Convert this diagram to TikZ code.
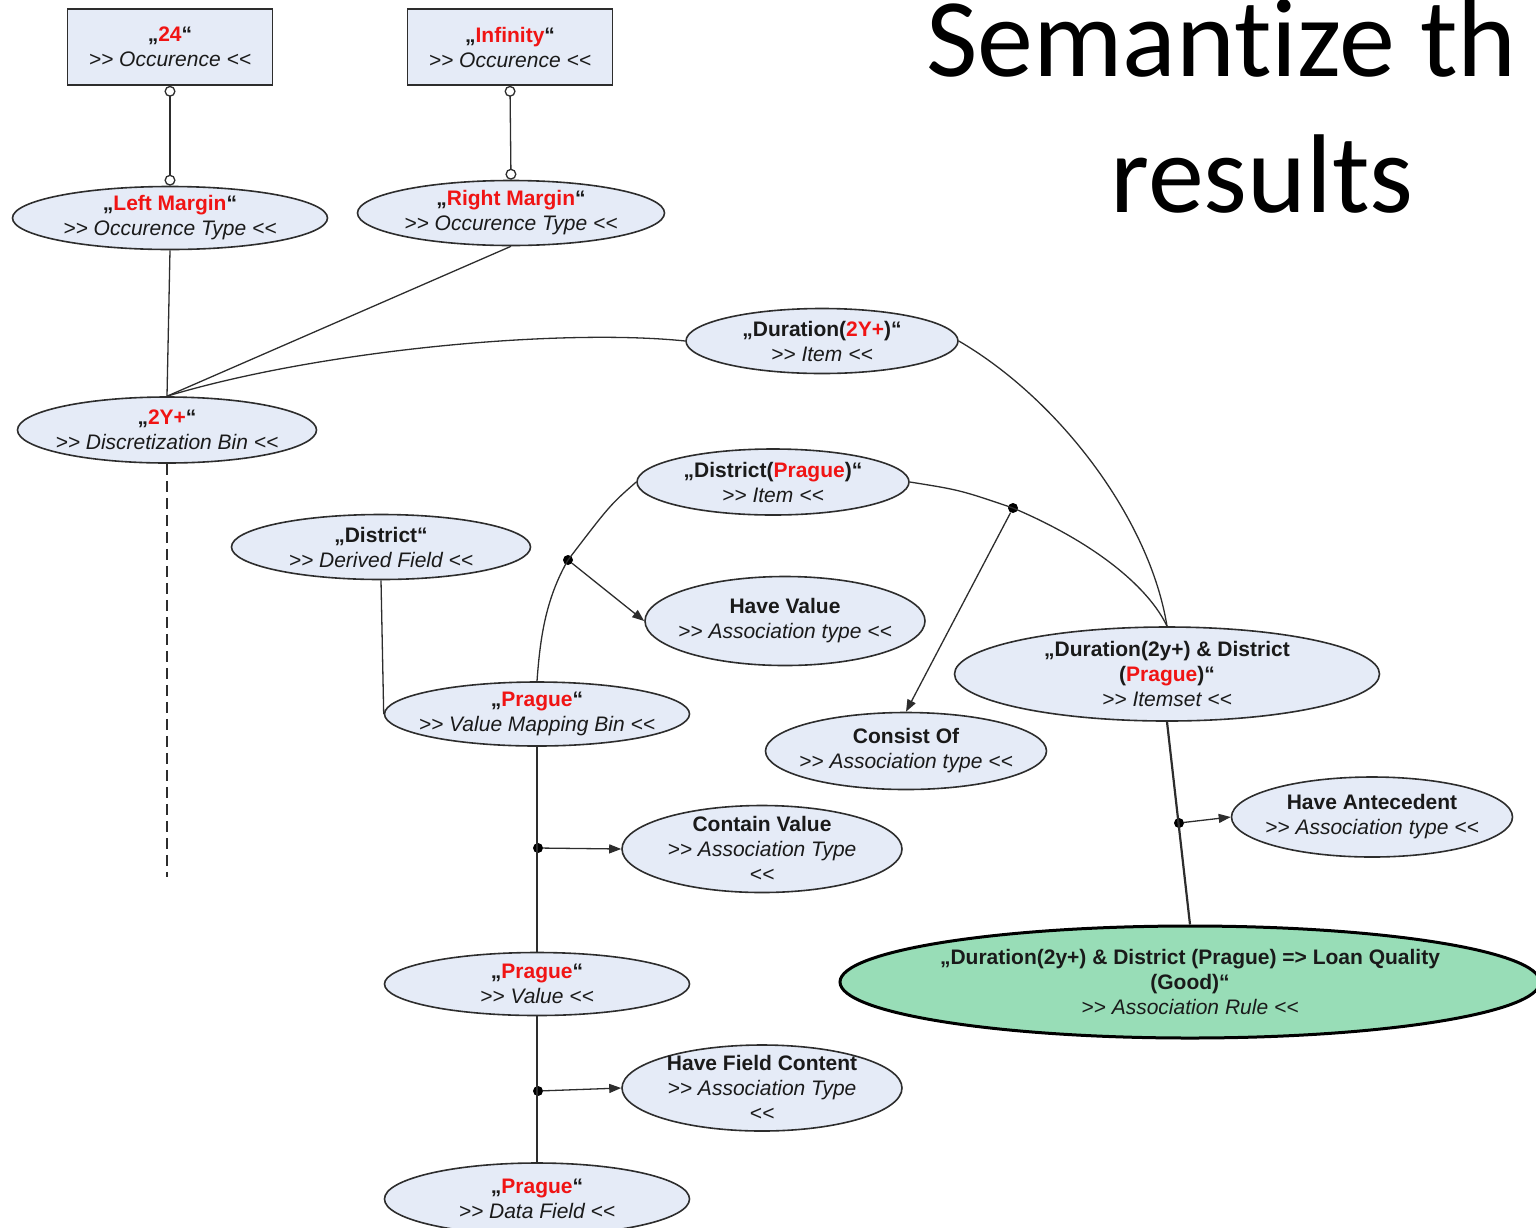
\documentclass[tikz,border=0pt]{standalone}
\usepackage{fontspec}
\setmainfont{Liberation Sans}[Ligatures=TeXOff]
\newfontfamily\titlefont{Carlito}[Ligatures={TeXOff,NoCommon}]
\usetikzlibrary{shapes.geometric,arrows.meta}
\definecolor{entfill}{RGB}{229,235,247}
\definecolor{rulefill}{RGB}{152,221,183}
\definecolor{edge}{RGB}{45,45,45}
\definecolor{hotred}{RGB}{240,20,20}
\definecolor{ink}{RGB}{26,26,26}
\newcommand\hl[1]{\textcolor{hotred}{#1}}
\tikzset{
  ent/.style={ellipse, draw=edge, fill=entfill, line width=1.6pt, inner sep=0pt},
  rulebox/.style={ellipse, draw=black, fill=rulefill, line width=3pt, inner sep=0pt},
  occbox/.style={rectangle, draw=edge, fill=entfill, line width=1.6pt, inner sep=0pt,
    minimum width=205pt, minimum height=76pt},
  lbl/.style={align=center, text=ink, inner sep=0pt, font=\fontsize{21}{25}\selectfont},
  link/.style={draw=edge, line width=1.3pt},
  occlink/.style={link, {Circle[open,length=11pt,width=11pt,fill=white]}-{Circle[open,length=11pt,width=11pt,fill=white]}},
  arr/.style={link, -{Triangle[length=12pt,width=9pt]}},
  junc/.style={circle, fill=black, inner sep=0pt, minimum size=10pt}
}
\begin{document}
\begin{tikzpicture}[x=1pt,y=-1pt]
\useasboundingbox (0,0) rectangle (1536,1227);
\clip (0,0) rectangle (1536,1227);

% title
\node[anchor=base west, inner sep=0pt, font=\titlefont\fontsize{112}{135}\selectfont] (title1) at (926,76) {Semantize th};
\node[anchor=base, inner sep=0pt, font=\titlefont\fontsize{112}{135}\selectfont] (title2) at (1262,212) {results};

% occurrences
\node[occbox, label={[lbl]center:{{\bfseries „\hl{24}“}\\{\itshape >> Occurence <<}}}] (r24) at (170,47) {};
\node[occbox, label={[lbl]center:{{\bfseries „\hl{Infinity}“}\\{\itshape >> Occurence <<}}}] (rinf) at (510,47) {};

% ellipses
\node[ent, minimum width=315pt, minimum height=63pt,
  label={[lbl]center:{{\bfseries „\hl{Left Margin}“}\\{\itshape >> Occurence Type <<}}}] (lm) at (170,218) {};
\node[ent, minimum width=307pt, minimum height=65pt,
  label={[lbl]center:{{\bfseries „\hl{Right Margin}“}\\{\itshape >> Occurence Type <<}}}] (rm) at (511,213) {};
\node[ent, minimum width=272pt, minimum height=65pt,
  label={[lbl]center:{{\bfseries „Duration(\hl{2Y+})“}\\{\itshape >> Item <<}}}] (dur) at (822,341) {};
\node[ent, minimum width=299pt, minimum height=66pt,
  label={[lbl]center:{{\bfseries „\hl{2Y+}“}\\{\itshape >> Discretization Bin <<}}}] (bin) at (167,430) {};
\node[ent, minimum width=272pt, minimum height=66pt,
  label={[lbl]center:{{\bfseries „District(\hl{Prague})“}\\{\itshape >> Item <<}}}] (dp) at (773,482) {};
\node[ent, minimum width=299pt, minimum height=65pt,
  label={[lbl]center:{{\bfseries „District“}\\{\itshape >> Derived Field <<}}}] (df) at (381,547) {};
\node[ent, minimum width=280pt, minimum height=89pt,
  label={[lbl]center:{{\bfseries Have Value}\\{\itshape >> Association type <<}}}] (hv) at (785,621) {};
\node[ent, minimum width=425pt, minimum height=94pt,
  label={[lbl]center:{{\bfseries „Duration(2y+) \& District}\\{\bfseries (\hl{Prague})“}\\{\itshape >> Itemset <<}}}] (its) at (1167,674) {};
\node[ent, minimum width=305pt, minimum height=64pt,
  label={[lbl]center:{{\bfseries „\hl{Prague}“}\\{\itshape >> Value Mapping Bin <<}}}] (vmb) at (537,714) {};
\node[ent, minimum width=281pt, minimum height=77pt,
  label={[lbl]center:{{\bfseries Consist Of}\\{\itshape >> Association type <<}}}] (co) at (906,751) {};
\node[ent, minimum width=281pt, minimum height=80pt,
  label={[lbl]center:{{\bfseries Have Antecedent}\\{\itshape >> Association type <<}}}] (ha) at (1372,817) {};
\node[ent, minimum width=280pt, minimum height=87pt,
  label={[lbl]center:{{\bfseries Contain Value}\\{\itshape >> Association Type}\\{\itshape <<}}}] (cv) at (762,849) {};
\node[rulebox, minimum width=700pt, minimum height=112pt,
  label={[lbl]center:{{\bfseries „Duration(2y+) \& District (Prague) => Loan Quality}\\{\bfseries (Good)“}\\{\itshape >> Association Rule <<}}}] (rule) at (1190,982) {};
\node[ent, minimum width=305pt, minimum height=63pt,
  label={[lbl]center:{{\bfseries „\hl{Prague}“}\\{\itshape >> Value <<}}}] (pv) at (537,984) {};
\node[ent, minimum width=280pt, minimum height=86pt,
  label={[lbl]center:{{\bfseries Have Field Content}\\{\itshape >> Association Type}\\{\itshape <<}}}] (hfc) at (762,1088) {};
\node[ent, minimum width=305pt, minimum height=72pt,
  label={[lbl]center:{{\bfseries „\hl{Prague}“}\\{\itshape >> Data Field <<}}}] (pdf) at (537,1199) {};

% junction points
\node[junc] (j1) at (1013,508) {};
\node[junc] (j2) at (568,560) {};
\node[junc] (j3) at (538,848) {};
\node[junc] (j4) at (538,1091) {};
\node[junc] (j5) at (1179,823) {};
\coordinate (binEnd) at (167,877);

% connectors
\draw[occlink] (r24.south) -- (lm.north);
\draw[occlink] (rinf.south) -- (rm.north);
\draw[link] (lm.south) -- (bin.north);
\draw[link] (rm.south) -- (bin.north);
\draw[link] (dur.west) .. controls (560,328) and (320,350) .. (bin.north);
\draw[link] (dur.east) .. controls (1060,400) and (1150,520) .. (its.north);
\draw[link, dash pattern=on 11pt off 6pt] (bin.south) -- (binEnd);
\draw[link] (dp.east) .. controls (960,490) .. (j1.center) .. controls (1100,545) and (1150,590) .. (its.north);
\draw[link] (dp.west) .. controls (610,505) .. (j2.center) .. controls (545,600) and (540,640) .. (vmb.north);
\draw[arr] (j1) -- (co.north);
\draw[arr] (j2) -- (hv.west);
\draw[link] (df.south) -- (vmb.west);
\draw[link] (vmb.south) -- (pv.north);
\draw[arr] (j3) -- (cv.west);
\draw[link] (pv.south) -- (pdf.north);
\draw[arr] (j4) -- (hfc.west);
\draw[link, line width=2.2pt] (its.south) -- (rule.north);
\draw[arr] (j5) -- (ha.west);
\end{tikzpicture}
\end{document}
